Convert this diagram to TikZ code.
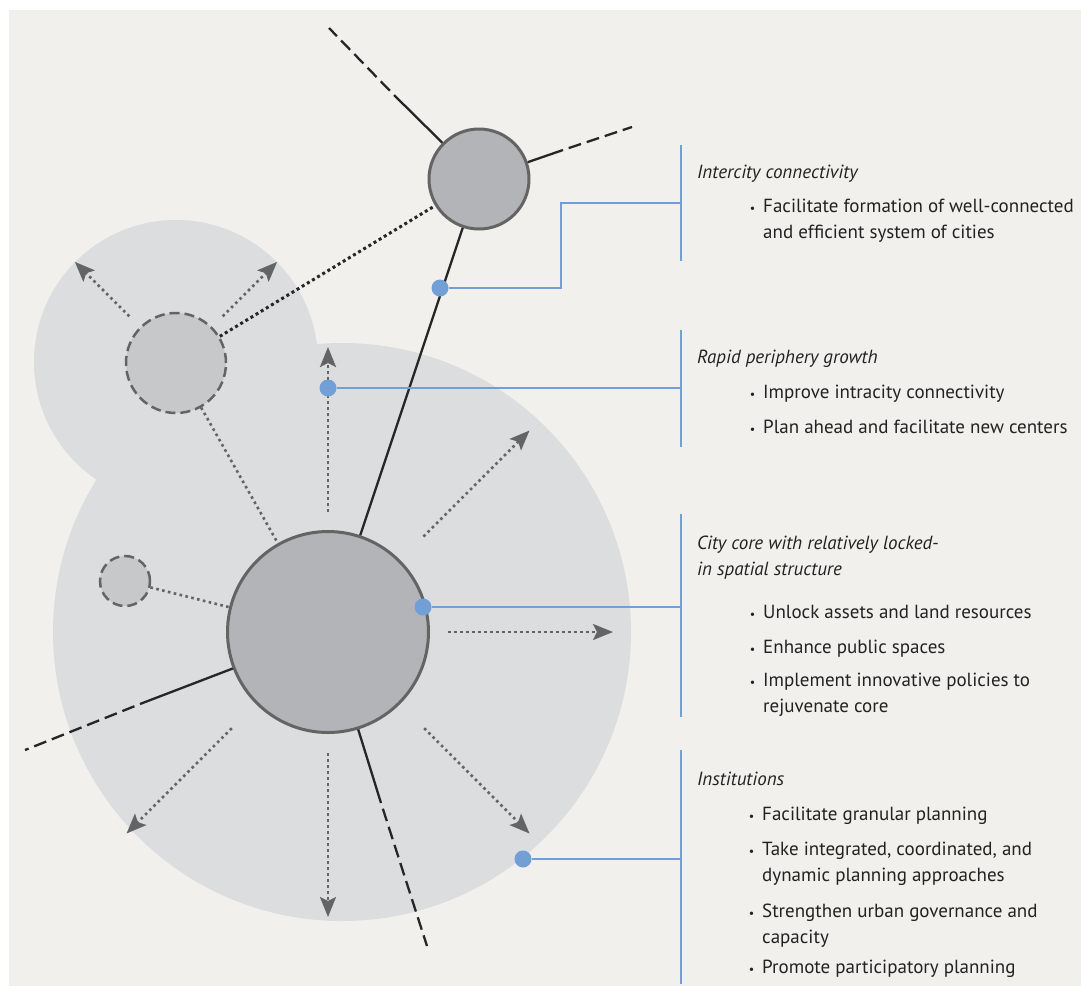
\documentclass[tikz,border=0pt]{standalone}
\usepackage{fontspec}
\setmainfont{PT Sans}
\usetikzlibrary{arrows.meta}
\definecolor{paper}{HTML}{F1F0EC}
\definecolor{blobgray}{HTML}{DCDDDF}
\definecolor{cityfill}{HTML}{B3B4B7}
\definecolor{satfill}{HTML}{C7C8CA}
\definecolor{rim}{HTML}{646464}
\definecolor{bluelink}{HTML}{729FD6}
\definecolor{ink}{HTML}{222222}
\newcommand\blt{\llap{{\fontsize{12}{12}\selectfont\textbullet}\hspace{8pt}}}
\begin{document}
\begin{tikzpicture}[x=1pt,y=-1pt,
        city/.style={circle,draw=rim,line width=3pt,fill=cityfill,inner sep=0pt},
        sat/.style={circle,draw=rim,line width=2.5pt,fill=satfill,dash pattern=on 10pt off 5pt,inner sep=0pt},
        road/.style={line width=2.3pt,black!85},
        broken/.style={road,dash pattern=on 13pt off 6pt,dash phase=13pt},
        tie/.style={draw=rim,line width=2.6pt,dash pattern=on 2.6pt off 3.4pt},
        spread/.style={tie,-{Stealth[length=20pt,width=16pt,inset=4pt]},rim},
        callout/.style={draw=bluelink,line width=2.5pt},
        dot/.style={circle,fill=bluelink,inner sep=0pt,minimum size=17pt},
        head/.style={anchor=base west,inner sep=0pt,align=left,text=ink,font=\fontsize{19}{26}\selectfont\itshape},
        item/.style={anchor=base west,inner sep=0pt,align=left,text=ink,font=\fontsize{19}{25.5}\selectfont}]
    \useasboundingbox (0,0) rectangle (1081,986);
    \fill[white] (0,0) rectangle (1081,986);
    \fill[paper] (9,10) rectangle (1081,986);
    % urban footprint
    \fill[blobgray] (342,632) circle[radius=289pt];
    \fill[blobgray] (176,362) circle[radius=142pt];
    \coordinate (Ccore) at (328,632);
    \coordinate (Csat) at (176,363);
    % growth arrows
    \foreach \a/\s in {-90/120,-45/135,0/120,45/136,90/121,135/136}
        \draw[spread] ([shift={(\a:\s)}]Ccore) -- ([shift={(\a:285)}]Ccore);
    \foreach \a in {-135,-45}
        \draw[spread] ([shift={(\a:66)}]Csat) -- ([shift={(\a:143)}]Csat);
    % cities
    \node[city,minimum size=100pt] (hub) at (479,179) {};
    \node[city,minimum size=201pt] (core) at (Ccore) {};
    \node[sat,minimum size=100pt] (sat) at (Csat) {};
    \node[sat,minimum size=50pt] (seed) at (125,581) {};
    \draw[tie] (sat) -- (core);
    \draw[tie] (seed) -- (core);
    \draw[line width=3pt,black!85,dash pattern=on 3pt off 3pt] (sat) -- (hub);
    % roads
    \draw[road] (hub) -- (core);
    \draw[road] (hub) -- (394,95);
    \draw[broken] (394,95) -- (329,28);
    \draw[road] (hub) -- (563,150);
    \draw[broken] (563,150) -- (632,127);
    \draw[road] (core) -- (140,704);
    \draw[broken] (140,704) -- (25,750);
    \draw[road] (core) -- (381,803);
    \draw[broken] (381,803) -- (427,946);
    % callouts
    \node[dot] (d1) at (440,288) {};
    \node[dot] (d2) at (328,388) {};
    \node[dot] (d3) at (423,607) {};
    \node[dot] (d4) at (523,859) {};
    \draw[callout] (d1) -| (561,203) -- (681,203);
    \draw[callout] (d2) -- (681,388);
    \draw[callout] (d3) -- (681,607);
    \draw[callout] (d4) -- (681,859);
    \draw[callout] (681,145) -- (681,261);
    \draw[callout] (681,330) -- (681,447);
    \draw[callout] (681,514) -- (681,717);
    \draw[callout] (681,750) -- (681,984);
    % texts (multi-line nodes sit on their last baseline)
    \node[head] (tInter) at (697,178) {Intercity connectivity};
    \node[item] (tInter1) at (763,238) {\blt Facilitate formation of well-connected\\and efficient system of cities};
    \node[head] (tRapid) at (697,363) {Rapid periphery growth};
    \node[item] (tRapid1) at (763,398) {\blt Improve intracity connectivity};
    \node[item] (tRapid2) at (763,433) {\blt Plan ahead and facilitate new centers};
    \node[head] (tCore) at (697,575) {City core with relatively locked-\\in spatial structure};
    \node[item] (tCore1) at (763,618) {\blt Unlock assets and land resources};
    \node[item] (tCore2) at (763,653) {\blt Enhance public spaces};
    \node[item] (tCore3) at (763,712) {\blt Implement innovative policies to\\rejuvenate core};
    \node[head] (tInst) at (697,785) {Institutions};
    \node[item] (tInst1) at (762,820) {\blt Facilitate granular planning};
    \node[item] (tInst2) at (762,881) {\blt Take integrated, coordinated, and\\dynamic planning approaches};
    \node[item] (tInst3) at (762,943) {\blt Strengthen urban governance and\\capacity};
    \node[item] (tInst4) at (762,973) {\blt Promote participatory planning};
\end{tikzpicture}
\end{document}
